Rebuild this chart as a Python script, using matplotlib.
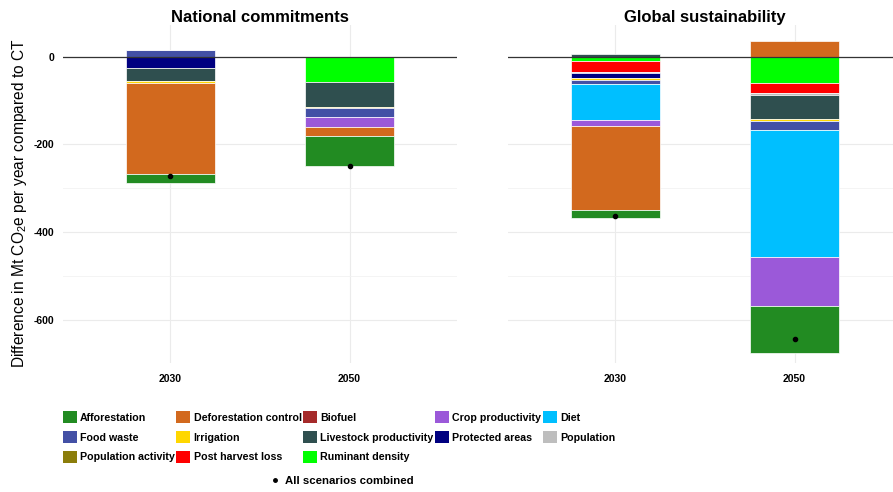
import numpy as np
import matplotlib
matplotlib.use("Agg")
import matplotlib.pyplot as plt
from matplotlib.patches import Patch
from matplotlib.lines import Line2D

plt.rcParams['font.family'] = ['Liberation Sans', 'DejaVu Sans']
plt.rcParams['mathtext.default'] = 'regular'
plt.rcParams['axes.unicode_minus'] = False

# legend / factor order (as read row-wise from the legend)
categories = ["Afforestation", "Deforestation control", "Biofuel", "Crop productivity", "Diet",
              "Food waste", "Irrigation", "Livestock productivity", "Protected areas", "Population",
              "Population activity", "Post harvest loss", "Ruminant density"]
colors = ["#228B22", "#D2691E", "#A52A2A", "#9B59D9", "#00BFFF",
          "#4350A5", "#FFD700", "#2F4F4F", "#000080", "#BEBEBE",
          "#8B7D0B", "#FF0000", "#00FF00"]

years = ["2030", "2050"]

# values per category, [2030, 2050], Mt CO2e per year vs CT
national = {
    "Afforestation": [-19, -68],
    "Deforestation control": [-208, -20],
    "Crop productivity": [0, -23],
    "Food waste": [14, -20],
    "Irrigation": [-4, -4],
    "Livestock productivity": [-31, -56],
    "Protected areas": [-25, 0],
    "Ruminant density": [0, -58],
}
national_total = [-273, -249]

global_sust = {
    "Afforestation": [-19, -107],
    "Deforestation control": [-190, 36],
    "Crop productivity": [-14, -112],
    "Diet": [-83, -290],
    "Food waste": [-9, -21],
    "Irrigation": [-5, -4],
    "Livestock productivity": [5, -55],
    "Protected areas": [-10, 0],
    "Population": [-4, -4],
    "Post harvest loss": [-25, -24],
    "Ruminant density": [-9, -59],
}
global_total = [-364, -643]

panels = [("National commitments", national, national_total),
          ("Global sustainability", global_sust, global_total)]

fig = plt.figure(figsize=(8.93, 4.92), dpi=100)
W, H = 893, 492
axes = [fig.add_axes([63 / W, 1 - 363 / H, 394 / W, 338 / H]),
        fig.add_axes([508 / W, 1 - 363 / H, 394 / W, 338 / H])]

x = np.arange(1, len(years) + 1)
for ax, (title, data, total) in zip(axes, panels):
    pos = np.zeros(len(years))
    neg = np.zeros(len(years))
    # last factor level sits next to zero
    for cat in reversed(categories):
        if cat not in data:
            continue
        vals = np.array(data[cat], dtype=float)
        col = colors[categories.index(cat)]
        base = np.where(vals >= 0, pos, neg)
        ax.bar(x, vals, bottom=base, width=0.5, color=col, edgecolor="white",
               linewidth=0.5, zorder=2)
        pos = pos + np.where(vals > 0, vals, 0)
        neg = neg + np.where(vals < 0, vals, 0)
    ax.scatter(x, total, s=9, color="black", zorder=4)
    ax.axhline(0, color="#333333", linewidth=0.9, zorder=3)

    ax.set_xlim(0.4, 2.6)
    ax.set_ylim(-698, 72)
    ax.set_xticks(x)
    ax.set_xticklabels(years, fontsize=7.5, fontweight="bold")
    ax.set_yticks([-600, -400, -200, 0])
    ax.set_yticks([-500, -300], minor=True)
    ax.tick_params(axis="both", which="both", length=0)
    ax.tick_params(axis="x", pad=8)
    ax.tick_params(axis="y", pad=6)
    for t in ax.get_yticklabels():
        t.set_fontweight("bold")
        t.set_fontsize(7.5)
    ax.grid(True, which="major", color="#EBEBEB", linewidth=0.8, zorder=0)
    ax.grid(True, which="minor", axis="y", color="#F2F2F2", linewidth=0.6, zorder=0)
    ax.set_axisbelow(True)
    for s in ax.spines.values():
        s.set_visible(False)
    ax.set_title(title, fontsize=12, fontweight="bold", pad=2)

axes[1].set_yticklabels([])
fig.text(20 / W, 1 - 203 / H, r"Difference in Mt CO$_2$e per year compared to CT",
         rotation=90, ha="center", va="center", fontsize=11.2)

# legend: matplotlib fills columns, so reorder to read row-wise like the reference
ncol = 5
rows = 3
order = []
for c in range(ncol):
    for r in range(rows):
        i = r * ncol + c
        if i < len(categories):
            order.append(i)
handles = [Patch(facecolor=colors[i], edgecolor="none", label=categories[i]) for i in order]
leg_font = {"weight": "bold", "size": 7.7}
fig.legend(handles=handles, loc="center", bbox_to_anchor=(339 / W, 1 - 437 / H),
           ncol=ncol, frameon=False, prop=leg_font,
           handlelength=1.3, handleheight=1.3, handletextpad=0.3,
           columnspacing=0.15, labelspacing=0.75, borderpad=0)
fig.legend(handles=[Line2D([], [], marker="o", linestyle="none", color="black",
                           markersize=2.5, label="All scenarios combined")],
           loc="center", bbox_to_anchor=(342 / W, 1 - 481 / H), frameon=False,
           prop={"weight": "bold", "size": 8.2}, handlelength=0.8, handletextpad=0.4,
           borderpad=0)

fig.savefig("out.png", dpi=100)
